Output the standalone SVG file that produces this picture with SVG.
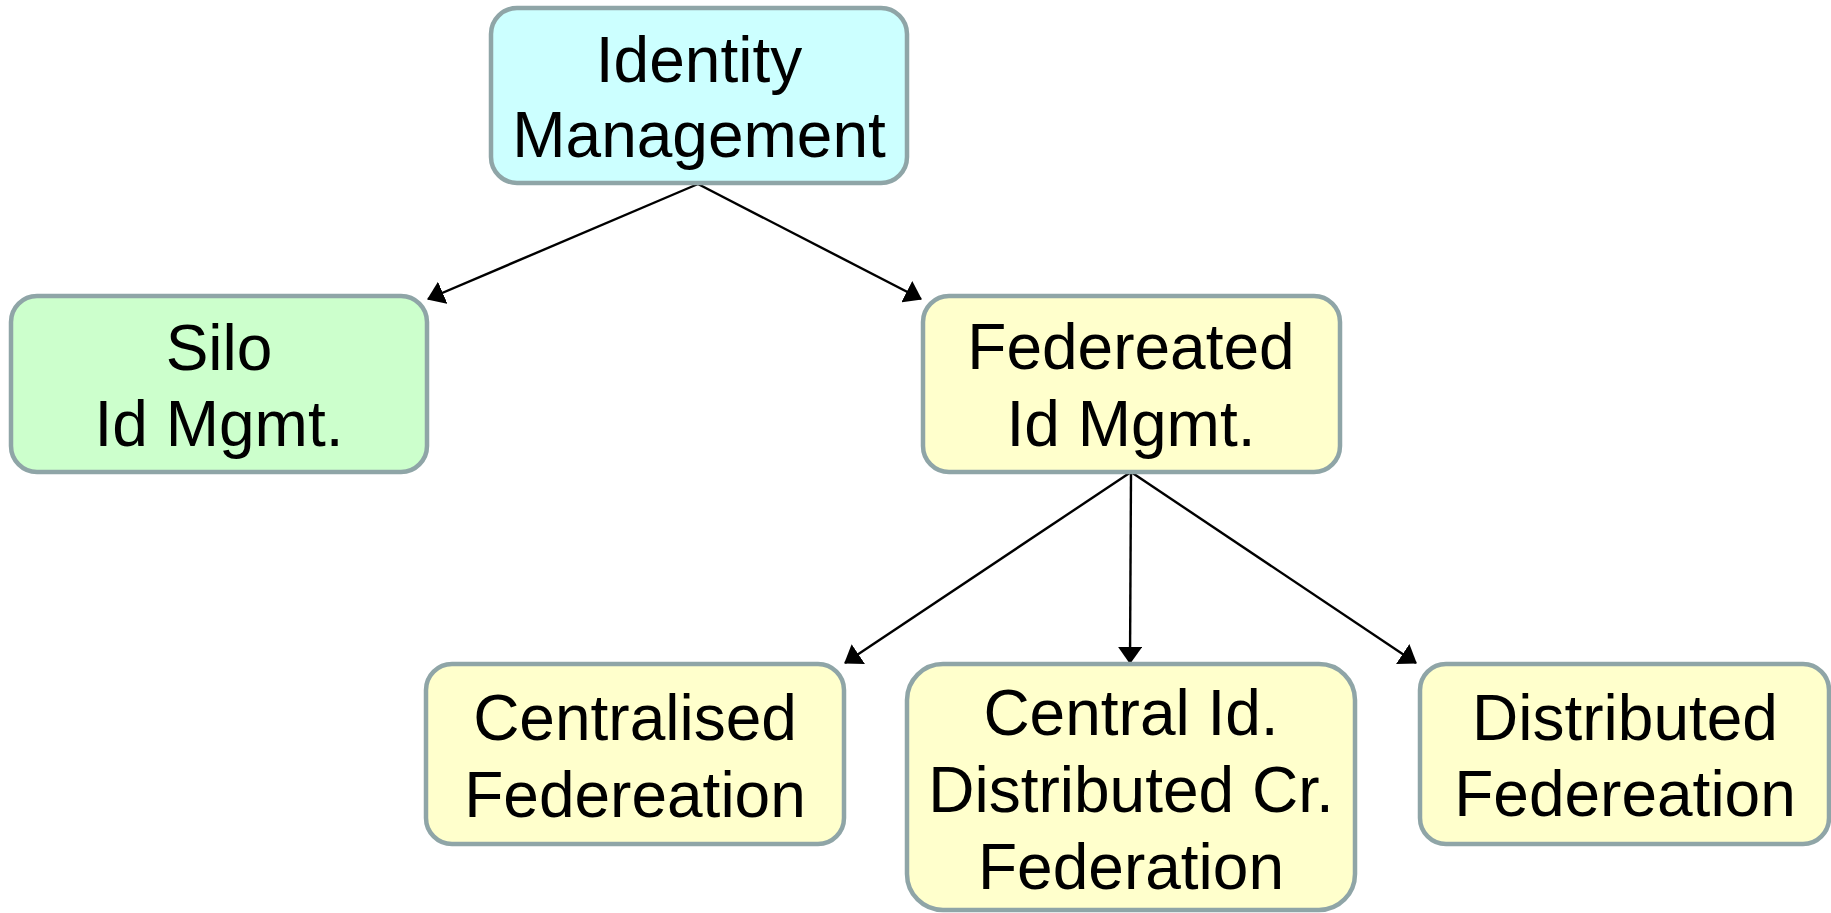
<svg xmlns="http://www.w3.org/2000/svg" width="1831" height="913" viewBox="0 0 1831 913">
  <style>
    .box { stroke: #8fa5a7; stroke-width: 4.5; }
    .root { fill: #ccffff; }
    .silo { fill: #ccffcc; }
    .fed { fill: #ffffcc; }
    .lbl { font-family: "Liberation Sans", Arial, sans-serif; font-size: 64px; fill: #000; text-anchor: middle; }
    .edge { stroke: #000; stroke-width: 2.4; fill: none; marker-end: url(#arrow); }
  </style>
  <defs>
    <marker id="arrow" markerUnits="userSpaceOnUse" viewBox="0 0 17 24" markerWidth="17" markerHeight="24" refX="16" refY="12" orient="auto">
      <path d="M0,0 L17,12 L0,24 Z" fill="#000"/>
    </marker>
  </defs>

  <rect width="1831" height="913" fill="#fff"/>

  <g id="connectors">
    <line class="edge" x1="698" y1="184" x2="428" y2="299"/>
    <line class="edge" x1="698" y1="184" x2="921" y2="299"/>
    <line class="edge" x1="1131" y1="472" x2="845" y2="663"/>
    <line class="edge" x1="1131" y1="472" x2="1130" y2="663"/>
    <line class="edge" x1="1131" y1="472" x2="1416" y2="663"/>
  </g>

  <g id="identity-management">
    <rect class="box root" x="491" y="8" width="416" height="175" rx="26"/>
    <text class="lbl" x="699" y="82">Identity</text>
    <text class="lbl" x="699" y="157">Management</text>
  </g>

  <g id="silo-id-mgmt">
    <rect class="box silo" x="11" y="296" width="416" height="176" rx="26"/>
    <text class="lbl" x="219" y="370">Silo</text>
    <text class="lbl" x="219" y="446">Id Mgmt.</text>
  </g>

  <g id="federated-id-mgmt">
    <rect class="box fed" x="923" y="296" width="417" height="176" rx="26"/>
    <text class="lbl" x="1131" y="369">Federeated</text>
    <text class="lbl" x="1131" y="446">Id Mgmt.</text>
  </g>

  <g id="centralised-federation">
    <rect class="box fed" x="426" y="664" width="418" height="180" rx="26"/>
    <text class="lbl" x="635" y="740">Centralised</text>
    <text class="lbl" x="635" y="817">Federeation</text>
  </g>

  <g id="central-id-distributed-cr">
    <rect class="box fed" x="907" y="664" width="448" height="246" rx="36"/>
    <text class="lbl" x="1131" y="735">Central Id.</text>
    <text class="lbl" x="1131" y="812">Distributed Cr.</text>
    <text class="lbl" x="1131" y="889">Federation</text>
  </g>

  <g id="distributed-federation">
    <rect class="box fed" x="1420" y="664" width="409" height="180" rx="26"/>
    <text class="lbl" x="1625" y="740">Distributed</text>
    <text class="lbl" x="1625" y="816">Federeation</text>
  </g>
</svg>
